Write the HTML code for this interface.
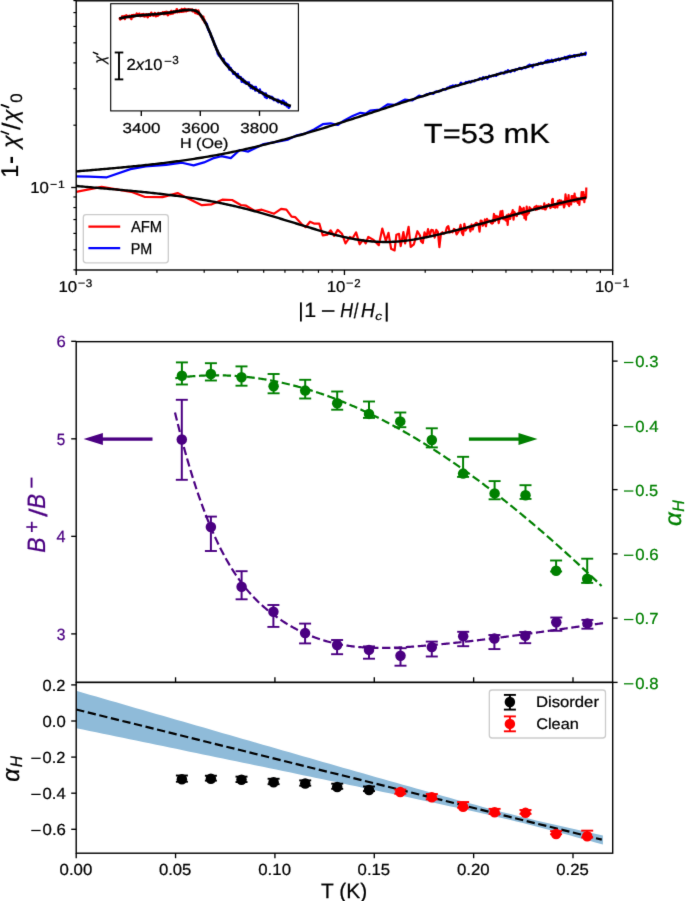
<!DOCTYPE html><html><head><meta charset="utf-8"><style>html,body{margin:0;padding:0;background:#fff;overflow:hidden}svg{display:block}text{font-family:"Liberation Sans",sans-serif;text-rendering:geometricPrecision}</style></head><body>
<svg width="685" height="901" viewBox="0 0 685 901">
<filter id="bl" color-interpolation-filters="sRGB" x="0" y="0" width="100%" height="100%" filterUnits="userSpaceOnUse"><feConvolveMatrix order="3" kernelMatrix="0.0081 0.0738 0.0081 0.0738 0.6724 0.0738 0.0081 0.0738 0.0081" edgeMode="duplicate" preserveAlpha="true"/></filter>
<g filter="url(#bl)">
<rect width="685" height="901" fill="#fff"/>
<defs><clipPath id="ctop"><rect x="76.2" y="0.8" width="536.5" height="269.2"/></clipPath><clipPath id="cins"><rect x="110.7" y="3.7" width="187.7" height="107.2"/></clipPath><clipPath id="cbot"><rect x="76.2" y="682.4" width="536.5" height="170.8"/></clipPath></defs>
<g clip-path="url(#ctop)" fill="none" stroke-linejoin="round" stroke-linecap="butt">
<polyline points="70,176.2 76,176.3 89.1,176.7 106.9,177.3 130.5,169.1 145.6,166.4 166,164.8 181.9,162.7 193.6,165.4 204,162.4 212.8,158.4 221.3,156.2 230.8,158.1 239.7,150 248.3,151.6 263.6,144 272.3,142.6 288.1,139.6 296.9,135.3 303.9,133.9 314,129.4 322.8,124.2 330.7,123.3 337.7,125 343.8,120.7 352.6,115.9 360.4,112.8 365.7,113.7 370.1,110.7 379.7,109.6 387.6,104.4 394.6,104.9 405.1,99.6 412.1,100.5 419.1,95.6 421.5,96.52 423.29,96.19 425.05,95.18 426.79,94.15 428.5,93.97 430.19,93.02 431.85,93.34 433.49,93.86 435.1,91.9 436.7,91.31 438.27,91.72 439.82,91.14 441.35,90.48 442.87,89.19 444.36,89.46 445.83,89.6 447.29,87.53 448.72,87.81 450.14,86.24 451.54,86.31 452.93,85.46 454.3,86.34 455.65,85.11 456.99,85.95 458.31,85.47 459.62,84.82 460.91,82.58 462.19,83.79 463.46,83.81 464.71,83.58 465.95,81.91 467.17,82.4 468.39,81.65 469.59,81.45 470.77,82.6 471.95,80.78 473.11,81.07 474.27,81.48 475.41,79.98 476.54,80.04 477.66,79.9 478.77,79.56 479.86,78.22 480.95,78.96 482.03,79.69 483.1,77.07 484.16,78.7 485.2,77.82 486.24,76.93 487.27,78.76 488.3,77.49 489.31,75.64 490.31,76.39 491.31,76.52 492.29,75.64 493.27,76.08 494.24,75.22 495.2,75.55 496.16,75.91 497.1,73.97 498.04,74.42 498.97,73.64 499.9,73.87 500.82,72.57 501.73,72.82 502.63,72.89 503.52,73.53 504.41,73.5 505.29,71.29 506.17,71.49 507.04,72.41 507.9,70.08 508.76,71.08 509.61,71.16 510.45,72.02 511.29,71.35 512.12,70.33 512.95,70.08 513.77,69.97 514.58,71.18 515.39,69.41 516.19,69.31 516.99,69.63 517.78,69.05 518.57,68.79 519.35,67.87 520.13,68.55 520.9,68.01 521.66,69.11 522.42,68.51 523.18,67.78 523.93,68.15 524.68,67.16 525.42,68.09 526.16,67.06 526.89,67.35 527.62,65.67 528.34,66.81 529.06,65 529.77,64.55 530.48,65.76 531.19,65.11 531.89,65.79 532.59,67.29 533.28,64.66 533.97,64.66 534.65,65.16 535.33,65.23 536.01,64.53 536.68,64.34 537.35,64.91 538.02,64.61 538.68,63.21 539.34,63.81 539.99,63.75 540.64,62.72 541.29,63.62 541.93,62.58 542.57,63.89 543.21,63.12 543.84,62.88 544.47,62.19 545.1,62.42 545.72,60.78 546.34,61.33 546.96,62.38 547.57,60.24 548.18,62.48 548.79,60.27 549.39,62.13 549.99,60.71 550.59,61.87 551.18,61.22 551.77,59.75 552.36,61.84 552.95,61.86 553.53,60.52 554.11,60.22 554.68,60.18 555.26,59.4 555.83,60.93 556.4,59.49 556.96,59.75 557.52,59.03 558.08,59.04 558.64,58.4 559.2,60.3 559.75,59.05 560.3,59.82 560.84,58.93 561.39,58.25 561.93,58.42 562.47,58.11 563.01,58.45 563.54,58.02 564.07,57.97 564.6,56.99 565.13,57.33 565.65,59.18 566.17,57.21 566.69,56.79 567.21,57.79 567.73,58.53 568.24,56.13 568.75,57.01 569.26,56.56 569.77,55.55 570.27,57.44 570.77,56.72 571.27,56.69 571.77,55.92 572.26,56.78 572.76,55.88 573.25,56.09 573.74,55.21 574.23,55.02 574.71,56.96 575.19,55.38 575.68,55.92 576.16,55.56 576.63,55.13 577.11,54.97 577.58,55.78 578.05,54.94 578.52,54.96 578.99,55 579.46,55.82 579.92,55.33 580.38,54.99 580.84,54.14 581.3,53.39 581.76,55.16 582.21,55.08 582.67,54.1 583.12,54.55 583.57,54.65 584.01,54.59 584.46,54.57 584.91,53.38 585.35,54.86 585.79,52.56 586,54.02" stroke="#0000ff" stroke-width="2.2"/>
<polyline points="70,192.6 76,191.8 101.6,186.8 131.2,191.8 145,197 162.5,197.1 177.6,193.1 188.1,198.4 201.9,205.2 211.8,204.3 222.3,199.7 232.1,200 240.8,205 246.1,205.7 254.8,210.9 261.8,209.7 274.1,213.7 281.1,208.8 286.4,209.7 291.6,216.7 295.1,217.1 302.1,224.6 305.6,227.2 310,221.7 314,223.6 319.3,223.6 322.8,235.5 327.2,234.7 330.7,230.3 334.2,235.9 337.7,229.9 342,233.8 345.5,243.4 349.9,237 352.6,238.2 356.1,232.4 359.6,244.3 363.1,239.9 365.7,243.4 368.3,237 373.6,239.9 378.8,245.2 382.3,228.5 385.8,240.8 388.5,232.9 391.1,248.7 394.6,250.4 396.4,234.7 399,233.8 400.7,246.1 403.4,232 405.1,243.4 408.6,226.8 410.7,246.9 413.9,244.3 417.4,231.2 420,235.5 421,241.27 422.8,242.97 424.57,232.27 426.31,237.19 428.03,229.18 429.72,235.56 431.39,229.92 433.04,230.27 434.66,237.63 436.26,229.86 437.84,231.99 439.4,247.14 440.93,233.63 442.45,232.2 443.95,233.59 445.43,232.7 446.89,227.4 448.33,226.16 449.75,232.43 451.16,231.62 452.55,232.3 453.92,228.95 455.28,229.97 456.62,234.39 457.95,232.31 459.26,230.39 460.56,224.9 461.84,232.68 463.11,235.05 464.37,223.88 465.61,230.53 466.84,228.35 468.05,227.33 469.26,226.64 470.45,231.43 471.63,224.48 472.79,229.41 473.95,224.91 475.09,224.26 476.23,222.8 477.35,223.43 478.46,224.44 479.56,231.62 480.65,220.63 481.73,220.92 482.8,225.72 483.86,224.13 484.92,219.48 485.96,226.23 486.99,218.8 488.01,221.24 489.03,220.6 490.03,221.1 491.03,222.99 492.02,223.53 493,222.82 493.97,213.97 494.94,221.18 495.89,215.93 496.84,218.63 497.78,216.49 498.72,223.05 499.64,218.25 500.56,211.44 501.47,217.66 502.38,210.81 503.28,219.15 504.17,218.52 505.05,219.48 505.93,220.6 506.8,215.46 507.66,224.96 508.52,214.39 509.37,215.18 510.22,218.88 511.06,213.83 511.89,213.22 512.72,210.17 513.54,219.73 514.36,211.95 515.17,213.46 515.97,215.58 516.77,215.98 517.56,213.67 518.35,213.79 519.13,213.23 519.91,206.73 520.68,213.23 521.45,208.65 522.21,214.13 522.97,214.68 523.72,207.79 524.47,218.18 525.21,211.75 525.95,219.75 526.69,206.62 527.42,214.63 528.14,210.35 528.86,213.13 529.58,207.22 530.29,208.53 530.99,208.74 531.7,208.98 532.39,209.55 533.09,209.7 533.78,209.08 534.46,207.16 535.15,206.71 535.82,209.83 536.5,205.95 537.17,209.39 537.84,208.86 538.5,206.45 539.16,208.66 539.81,206.56 540.46,206.35 541.11,208.36 541.76,206.49 542.4,208.6 543.03,208.57 543.67,208.65 544.3,203.26 544.93,209.4 545.55,209.37 546.17,208.27 546.79,205.03 547.4,206.62 548.01,205.68 548.62,204.13 549.22,205.92 549.82,205.42 550.42,208.04 551.02,206.66 551.61,206.74 552.2,199.71 552.78,198.82 553.37,206.88 553.95,204.51 554.52,204.11 555.1,207.67 555.67,204.79 556.24,203.91 556.81,203.42 557.37,207.41 557.93,200.81 558.49,205.06 559.04,201.09 559.59,200.12 560.15,204.62 560.69,202.47 561.24,200.66 561.78,204.37 562.32,202.79 562.86,202.89 563.39,201.48 563.92,207.44 564.45,206.34 564.98,202.23 565.51,194.47 566.03,199.62 566.55,203.44 567.07,198.84 567.58,204.4 568.1,200.26 568.61,195.13 569.12,206.15 569.63,202.03 570.13,200.12 570.63,202.78 571.13,204.4 571.63,196.06 572.13,201.31 572.62,196.31 573.11,199.12 573.6,195.74 574.09,201.7 574.58,193.51 575.06,198.48 575.54,201.2 576.02,199.24 576.5,197.74 576.98,199.3 577.45,202.04 577.92,202.95 578.39,198.33 578.86,198.65 579.33,204.86 579.79,199.89 580.25,198.26 580.72,198.79 581.17,198.74 581.63,192.16 582.09,199.73 582.54,194.97 582.99,196.67 583.44,192.08 583.89,196.47 584.34,202.16 584.78,195.15 585.23,199.06 585.67,197.32 586.11,197.26 586.3,187.48" stroke="#ff0000" stroke-width="2.2"/>
<polyline points="70,171.9 71.73,171.76 73.45,171.62 75.18,171.48 76.9,171.33 78.63,171.19 80.35,171.05 82.08,170.9 83.81,170.76 85.53,170.62 87.26,170.47 88.98,170.33 90.71,170.18 92.43,170.04 94.16,169.89 95.89,169.75 97.61,169.6 99.34,169.45 101.06,169.3 102.79,169.16 104.52,169.01 106.24,168.86 107.97,168.71 109.69,168.55 111.42,168.4 113.14,168.25 114.87,168.09 116.6,167.93 118.32,167.78 120.05,167.62 121.77,167.46 123.5,167.29 125.22,167.13 126.95,166.97 128.68,166.8 130.4,166.63 132.13,166.46 133.85,166.29 135.58,166.12 137.3,165.94 139.03,165.77 140.76,165.59 142.48,165.41 144.21,165.23 145.93,165.04 147.66,164.86 149.38,164.67 151.11,164.48 152.84,164.28 154.56,164.09 156.29,163.89 158.01,163.69 159.74,163.49 161.46,163.28 163.19,163.07 164.92,162.86 166.64,162.65 168.37,162.43 170.09,162.21 171.82,161.99 173.55,161.77 175.27,161.54 177,161.31 178.72,161.08 180.45,160.84 182.17,160.6 183.9,160.36 185.63,160.11 187.35,159.86 189.08,159.61 190.8,159.35 192.53,159.09 194.25,158.83 195.98,158.56 197.71,158.29 199.43,158.01 201.16,157.74 202.88,157.45 204.61,157.17 206.33,156.88 208.06,156.58 209.79,156.29 211.51,155.99 213.24,155.68 214.96,155.37 216.69,155.06 218.41,154.74 220.14,154.41 221.87,154.09 223.59,153.75 225.32,153.42 227.04,153.08 228.77,152.73 230.49,152.38 232.22,152.03 233.95,151.67 235.67,151.31 237.4,150.94 239.12,150.57 240.85,150.19 242.58,149.81 244.3,149.43 246.03,149.04 247.75,148.65 249.48,148.26 251.2,147.86 252.93,147.45 254.66,147.05 256.38,146.63 258.11,146.22 259.83,145.8 261.56,145.38 263.28,144.95 265.01,144.52 266.74,144.09 268.46,143.65 270.19,143.21 271.91,142.77 273.64,142.32 275.36,141.87 277.09,141.41 278.82,140.96 280.54,140.5 282.27,140.03 283.99,139.57 285.72,139.1 287.44,138.62 289.17,138.15 290.9,137.67 292.62,137.18 294.35,136.7 296.07,136.21 297.8,135.72 299.53,135.23 301.25,134.73 302.98,134.23 304.7,133.73 306.43,133.22 308.15,132.72 309.88,132.21 311.61,131.69 313.33,131.18 315.06,130.66 316.78,130.14 318.51,129.62 320.23,129.1 321.96,128.57 323.69,128.04 325.41,127.51 327.14,126.98 328.86,126.44 330.59,125.9 332.31,125.36 334.04,124.82 335.77,124.28 337.49,123.73 339.22,123.19 340.94,122.64 342.67,122.09 344.39,121.53 346.12,120.98 347.85,120.42 349.57,119.87 351.3,119.31 353.02,118.75 354.75,118.19 356.47,117.63 358.2,117.07 359.93,116.51 361.65,115.94 363.38,115.38 365.1,114.81 366.83,114.25 368.56,113.68 370.28,113.12 372.01,112.55 373.73,111.98 375.46,111.41 377.18,110.85 378.91,110.28 380.64,109.71 382.36,109.15 384.09,108.58 385.81,108.01 387.54,107.45 389.26,106.88 390.99,106.32 392.72,105.75 394.44,105.19 396.17,104.63 397.89,104.07 399.62,103.51 401.34,102.95 403.07,102.39 404.8,101.83 406.52,101.28 408.25,100.72 409.97,100.17 411.7,99.62 413.42,99.07 415.15,98.52 416.88,97.97 418.6,97.43 420.33,96.88 422.05,96.34 423.78,95.8 425.51,95.26 427.23,94.73 428.96,94.19 430.68,93.66 432.41,93.12 434.13,92.59 435.86,92.07 437.59,91.54 439.31,91.01 441.04,90.49 442.76,89.97 444.49,89.45 446.21,88.93 447.94,88.41 449.67,87.9 451.39,87.39 453.12,86.88 454.84,86.37 456.57,85.86 458.29,85.35 460.02,84.85 461.75,84.35 463.47,83.85 465.2,83.35 466.92,82.86 468.65,82.36 470.37,81.87 472.1,81.38 473.83,80.89 475.55,80.41 477.28,79.92 479,79.44 480.73,78.96 482.45,78.48 484.18,78.01 485.91,77.53 487.63,77.06 489.36,76.59 491.08,76.12 492.81,75.66 494.54,75.19 496.26,74.73 497.99,74.27 499.71,73.82 501.44,73.36 503.16,72.91 504.89,72.46 506.62,72.01 508.34,71.56 510.07,71.11 511.79,70.67 513.52,70.23 515.24,69.79 516.97,69.36 518.7,68.92 520.42,68.49 522.15,68.06 523.87,67.63 525.6,67.2 527.32,66.78 529.05,66.35 530.78,65.93 532.5,65.51 534.23,65.1 535.95,64.68 537.68,64.27 539.4,63.86 541.13,63.45 542.86,63.05 544.58,62.64 546.31,62.24 548.03,61.84 549.76,61.44 551.48,61.04 553.21,60.65 554.94,60.25 556.66,59.86 558.39,59.47 560.11,59.09 561.84,58.7 563.57,58.32 565.29,57.94 567.02,57.56 568.74,57.18 570.47,56.81 572.19,56.43 573.92,56.06 575.65,55.69 577.37,55.32 579.1,54.96 580.82,54.6 582.55,54.23 584.27,53.87 586,53.52" stroke="#000" stroke-width="2.4"/>
<polyline points="70,185.38 71.73,185.54 73.45,185.71 75.18,185.87 76.91,186.03 78.63,186.19 80.36,186.35 82.09,186.5 83.81,186.66 85.54,186.82 87.27,186.97 88.99,187.12 90.72,187.28 92.45,187.43 94.17,187.58 95.9,187.73 97.63,187.88 99.35,188.03 101.08,188.18 102.81,188.33 104.54,188.48 106.26,188.63 107.99,188.78 109.72,188.94 111.44,189.09 113.17,189.24 114.9,189.39 116.62,189.54 118.35,189.7 120.08,189.85 121.8,190 123.53,190.16 125.26,190.32 126.98,190.48 128.71,190.63 130.44,190.8 132.16,190.96 133.89,191.12 135.62,191.28 137.34,191.45 139.07,191.62 140.8,191.79 142.52,191.96 144.25,192.13 145.98,192.31 147.7,192.49 149.43,192.67 151.16,192.85 152.88,193.04 154.61,193.22 156.34,193.41 158.06,193.61 159.79,193.8 161.52,194 163.24,194.2 164.97,194.4 166.7,194.61 168.43,194.82 170.15,195.03 171.88,195.25 173.61,195.47 175.33,195.7 177.06,195.92 178.79,196.15 180.51,196.39 182.24,196.63 183.97,196.87 185.69,197.12 187.42,197.37 189.15,197.62 190.87,197.88 192.6,198.14 194.33,198.41 196.05,198.68 197.78,198.96 199.51,199.24 201.23,199.53 202.96,199.82 204.69,200.12 206.41,200.42 208.14,200.73 209.87,201.04 211.59,201.36 213.32,201.68 215.05,202.01 216.77,202.34 218.5,202.68 220.23,203.02 221.95,203.38 223.68,203.73 225.41,204.09 227.13,204.46 228.86,204.84 230.59,205.22 232.32,205.61 234.04,206 235.77,206.4 237.5,206.81 239.22,207.22 240.95,207.64 242.68,208.07 244.4,208.5 246.13,208.94 247.86,209.39 249.58,209.84 251.31,210.3 253.04,210.76 254.76,211.23 256.49,211.7 258.22,212.18 259.94,212.67 261.67,213.15 263.4,213.64 265.12,214.14 266.85,214.64 268.58,215.14 270.3,215.65 272.03,216.15 273.76,216.67 275.48,217.18 277.21,217.7 278.94,218.22 280.66,218.74 282.39,219.26 284.12,219.78 285.84,220.31 287.57,220.84 289.3,221.37 291.02,221.9 292.75,222.42 294.48,222.95 296.21,223.48 297.93,224.01 299.66,224.54 301.39,225.07 303.11,225.6 304.84,226.13 306.57,226.66 308.29,227.18 310.02,227.71 311.75,228.23 313.47,228.75 315.2,229.27 316.93,229.78 318.65,230.29 320.38,230.8 322.11,231.3 323.83,231.8 325.56,232.29 327.29,232.78 329.01,233.26 330.74,233.73 332.47,234.19 334.19,234.65 335.92,235.09 337.65,235.53 339.37,235.95 341.1,236.37 342.83,236.77 344.55,237.16 346.28,237.54 348.01,237.9 349.73,238.26 351.46,238.59 353.19,238.91 354.91,239.22 356.64,239.51 358.37,239.79 360.09,240.05 361.82,240.3 363.55,240.53 365.28,240.74 367,240.94 368.73,241.12 370.46,241.29 372.18,241.44 373.91,241.57 375.64,241.68 377.36,241.78 379.09,241.86 380.82,241.92 382.54,241.96 384.27,241.98 386,241.99 387.72,241.97 389.45,241.94 391.18,241.89 392.9,241.82 394.63,241.73 396.36,241.62 398.08,241.49 399.81,241.34 401.54,241.18 403.26,240.99 404.99,240.8 406.72,240.58 408.44,240.35 410.17,240.11 411.9,239.85 413.62,239.58 415.35,239.29 417.08,239 418.8,238.69 420.53,238.37 422.26,238.04 423.98,237.7 425.71,237.35 427.44,237 429.17,236.63 430.89,236.26 432.62,235.88 434.35,235.49 436.07,235.1 437.8,234.7 439.53,234.3 441.25,233.9 442.98,233.49 444.71,233.07 446.43,232.66 448.16,232.24 449.89,231.82 451.61,231.39 453.34,230.96 455.07,230.53 456.79,230.1 458.52,229.66 460.25,229.22 461.97,228.78 463.7,228.33 465.43,227.88 467.15,227.44 468.88,226.98 470.61,226.53 472.33,226.08 474.06,225.62 475.79,225.16 477.51,224.7 479.24,224.24 480.97,223.78 482.69,223.32 484.42,222.85 486.15,222.39 487.87,221.92 489.6,221.45 491.33,220.99 493.06,220.52 494.78,220.05 496.51,219.58 498.24,219.11 499.96,218.64 501.69,218.17 503.42,217.7 505.14,217.23 506.87,216.77 508.6,216.3 510.32,215.83 512.05,215.36 513.78,214.9 515.5,214.43 517.23,213.97 518.96,213.51 520.68,213.05 522.41,212.58 524.14,212.13 525.86,211.67 527.59,211.21 529.32,210.76 531.04,210.31 532.77,209.86 534.5,209.41 536.22,208.96 537.95,208.52 539.68,208.08 541.4,207.64 543.13,207.2 544.86,206.77 546.58,206.34 548.31,205.91 550.04,205.49 551.76,205.07 553.49,204.65 555.22,204.24 556.95,203.83 558.67,203.42 560.4,203.01 562.13,202.61 563.85,202.22 565.58,201.83 567.31,201.44 569.03,201.06 570.76,200.68 572.49,200.3 574.21,199.93 575.94,199.57 577.67,199.21 579.39,198.85 581.12,198.5 582.85,198.16 584.57,197.81 586.3,197.48" stroke="#000" stroke-width="2.4"/>
</g>
<rect x="76.2" y="0.8" width="536.5" height="269.2" fill="none" stroke="#000" stroke-width="1.4"/>
<line x1="76.2" y1="270" x2="76.2" y2="275" stroke="#000" stroke-width="1.35"/>
<line x1="156.95" y1="270" x2="156.95" y2="272.8" stroke="#000" stroke-width="1.2"/>
<line x1="204.19" y1="270" x2="204.19" y2="272.8" stroke="#000" stroke-width="1.2"/>
<line x1="237.7" y1="270" x2="237.7" y2="272.8" stroke="#000" stroke-width="1.2"/>
<line x1="263.7" y1="270" x2="263.7" y2="272.8" stroke="#000" stroke-width="1.2"/>
<line x1="284.94" y1="270" x2="284.94" y2="272.8" stroke="#000" stroke-width="1.2"/>
<line x1="302.9" y1="270" x2="302.9" y2="272.8" stroke="#000" stroke-width="1.2"/>
<line x1="318.45" y1="270" x2="318.45" y2="272.8" stroke="#000" stroke-width="1.2"/>
<line x1="332.18" y1="270" x2="332.18" y2="272.8" stroke="#000" stroke-width="1.2"/>
<line x1="344.45" y1="270" x2="344.45" y2="275" stroke="#000" stroke-width="1.35"/>
<line x1="425.2" y1="270" x2="425.2" y2="272.8" stroke="#000" stroke-width="1.2"/>
<line x1="472.44" y1="270" x2="472.44" y2="272.8" stroke="#000" stroke-width="1.2"/>
<line x1="505.95" y1="270" x2="505.95" y2="272.8" stroke="#000" stroke-width="1.2"/>
<line x1="531.95" y1="270" x2="531.95" y2="272.8" stroke="#000" stroke-width="1.2"/>
<line x1="553.19" y1="270" x2="553.19" y2="272.8" stroke="#000" stroke-width="1.2"/>
<line x1="571.15" y1="270" x2="571.15" y2="272.8" stroke="#000" stroke-width="1.2"/>
<line x1="586.7" y1="270" x2="586.7" y2="272.8" stroke="#000" stroke-width="1.2"/>
<line x1="600.43" y1="270" x2="600.43" y2="272.8" stroke="#000" stroke-width="1.2"/>
<line x1="612.7" y1="270" x2="612.7" y2="275" stroke="#000" stroke-width="1.35"/>
<line x1="73.4" y1="269.85" x2="76.2" y2="269.85" stroke="#000" stroke-width="1.2"/>
<line x1="73.4" y1="249.79" x2="76.2" y2="249.79" stroke="#000" stroke-width="1.2"/>
<line x1="73.4" y1="233.4" x2="76.2" y2="233.4" stroke="#000" stroke-width="1.2"/>
<line x1="73.4" y1="219.55" x2="76.2" y2="219.55" stroke="#000" stroke-width="1.2"/>
<line x1="73.4" y1="207.55" x2="76.2" y2="207.55" stroke="#000" stroke-width="1.2"/>
<line x1="73.4" y1="196.96" x2="76.2" y2="196.96" stroke="#000" stroke-width="1.2"/>
<line x1="73.4" y1="125.19" x2="76.2" y2="125.19" stroke="#000" stroke-width="1.2"/>
<line x1="73.4" y1="88.74" x2="76.2" y2="88.74" stroke="#000" stroke-width="1.2"/>
<line x1="73.4" y1="62.89" x2="76.2" y2="62.89" stroke="#000" stroke-width="1.2"/>
<line x1="73.4" y1="42.83" x2="76.2" y2="42.83" stroke="#000" stroke-width="1.2"/>
<line x1="73.4" y1="26.44" x2="76.2" y2="26.44" stroke="#000" stroke-width="1.2"/>
<line x1="73.4" y1="12.59" x2="76.2" y2="12.59" stroke="#000" stroke-width="1.2"/>
<line x1="73.4" y1="0.59" x2="76.2" y2="0.59" stroke="#000" stroke-width="1.2"/>
<line x1="71.2" y1="187.49" x2="76.2" y2="187.49" stroke="#000" stroke-width="1.35"/>
<rect x="78.3" y="282.6" width="6.5" height="1" fill="#000"/>
<rect x="346.5" y="282.6" width="6.5" height="1" fill="#000"/>
<rect x="614.8" y="282.6" width="6.5" height="1" fill="#000"/>
<rect x="50.5" y="183.9" width="6.2" height="1" fill="#000"/>
<rect x="300" y="302.4" width="1.8" height="19.1" fill="#000"/>
<rect x="321.9" y="310.2" width="12.6" height="1.6" fill="#000"/>
<rect x="385.7" y="302.7" width="2" height="18.9" fill="#000"/>
<rect x="10.5" y="156.9" width="2.5" height="6.1" fill="#000"/>
<line x1="1.4" y1="131.5" x2="8.4" y2="134" stroke="#000" stroke-width="1.8" stroke-linecap="round"/>
<line x1="1.5" y1="104.9" x2="8.5" y2="107.4" stroke="#000" stroke-width="1.8" stroke-linecap="round"/>
<rect x="83.3" y="214.6" width="85" height="48.2" rx="2.8" ry="2.8" fill="#fff" fill-opacity="0.8" stroke="#cbcbcb" stroke-width="1.3"/>
<line x1="88.4" y1="226.6" x2="120.2" y2="226.6" stroke="#ff0000" stroke-width="2.2"/>
<line x1="88.4" y1="248.2" x2="120.2" y2="248.2" stroke="#0000ff" stroke-width="2.2"/>
<rect x="110.7" y="3.7" width="187.7" height="107.2" fill="#fff" stroke="#000" stroke-width="1.1"/>
<g clip-path="url(#cins)" fill="none" stroke-linejoin="round">
<polyline points="119.3,19.1 119.8,18.39 120.3,19.48 120.8,18.57 121.3,18.43 121.8,18.35 122.3,16.38 122.8,17.58 123.3,17.39 123.8,17.76 124.3,16.11 124.8,19.01 125.3,17.39 125.8,15.99 126.3,15.41 126.8,16.76 127.3,16.87 127.8,16.17 128.3,16.9 128.8,16.1 129.3,17.22 129.8,15.87 130.3,16.49 130.8,17.44 131.3,18.96 131.8,15.32 132.3,15.8 132.8,15.36 133.3,16.93 133.8,14.94 134.3,15.54 134.8,15.94 135.3,14.94 135.8,14.9 136.3,15.33 136.8,13.65 137.3,14.26 137.8,15.24 138.3,15.75 138.8,15.37 139.3,13.73 139.8,15 140.3,16.21 140.8,15.92 141.3,15.25 141.8,14.39 142.3,15.87 142.8,14.61 143.3,13.98 143.8,14.31 144.3,16.52 144.8,15.25 145.3,16.14 145.8,14.46 146.3,15.84 146.8,14.26 147.3,14.67 147.8,17.27 148.3,15.51 148.8,14.2 149.3,14.58 149.8,14.95 150.3,15.8 150.8,14.06 151.3,12.76 151.8,14.19 152.3,14.44 152.8,14.49 153.3,15.66 153.8,14.62 154.3,15.07 154.8,13.12 155.3,15.04 155.8,16.23 156.3,14.86 156.8,14.3 157.3,14.15 157.8,15.74 158.3,12.98 158.8,13.75 159.3,14.27 159.8,14.5 160.3,13.27 160.8,13.97 161.3,13.33 161.8,13.68 162.3,13.37 162.8,12.31 163.3,13.37 163.8,14.21 164.3,12.31 164.8,12.97 165.3,13.82 165.8,12.02 166.3,13.21 166.8,11.9 167.3,14.03 167.8,15.14 168.3,14.78 168.8,12.47 169.3,13.35 169.8,12.66 170.3,12.57 170.8,13.93 171.3,10.99 171.8,13.28 172.3,12.09 172.8,13.46 173.3,12.16 173.8,11.21 174.3,12.07 174.8,12.44 175.3,11.65 175.8,12.01 176.3,10.91 176.8,9.21 177.3,12.15 177.8,11.86 178.3,11.23 178.8,11.06 179.3,11.94 179.8,10.37 180.3,10.04 180.8,10.48 181.3,11.78 181.8,9.13 182.3,11.64 182.8,9.75 183.3,9.22 183.8,11.53 184.3,10.12 184.8,8.86 185.3,9.76 185.8,11.01 186.3,11.24 186.8,9.59 187.3,10.4 187.8,10.69 188.3,9.32 188.8,10.32 189.3,9.93 189.8,9.44 190.3,9.5 190.8,10.09 191.3,10.08 191.8,9.53 192.3,9.72 192.8,11.31 193.3,10.48 193.8,11.23 194.3,11.65 194.8,11.16 195.3,12.99 195.8,10.08 196.3,11.94 196.8,11.08 197.3,13.57 197.8,13.78 198.3,10.55 198.8,12.02 199.3,14.18 199.8,14.89 200.3,15.45 200.8,15.3 201.3,16.51 201.8,17.43 202.3,17.44 202.8,19.32 203.3,16.84 203.8,20.57 204.3,19.77 204.8,22.66 205.3,22.39 205.8,22.69" stroke="#ff0000" stroke-width="2.5"/>
<polyline points="205.3,23 205.8,22.66 206.3,23.64 206.8,24 207.3,26.58 207.8,28.17 208.3,29.79 208.8,29.75 209.3,32.09 209.8,32.24 210.3,33.34 210.8,35.23 211.3,36.97 211.8,36.85 212.3,38.24 212.8,39.62 213.3,41.16 213.8,41.46 214.3,44.66 214.8,44.48 215.3,46.56 215.8,46.47 216.3,48.81 216.8,49.96 217.3,50.22 217.8,53.7 218.3,53.05 218.8,55.43 219.3,55.54 219.8,54.82 220.3,55.97 220.8,57.62 221.3,58.06 221.8,58.83 222.3,59.25 222.8,58.45 223.3,60.74 223.8,59.43 224.3,62.68 224.8,62.23 225.3,62.86 225.8,63.96 226.3,65.04 226.8,63.91 227.3,64.15 227.8,65.38 228.3,64.94 228.8,66.54 229.3,69.61 229.8,67.48 230.3,69.69 230.8,68.16 231.3,70.32 231.8,70.19 232.3,70.94 232.8,72.04 233.3,73.71 233.8,72.62 234.3,73.01 234.8,72.38 235.3,74.39 235.8,74.01 236.3,75.54 236.8,75.11 237.3,77.34 237.8,74.05 238.3,76.17 238.8,77.78 239.3,76.97 239.8,76.95 240.3,77.89 240.8,77.19 241.3,79.1 241.8,81.83 242.3,80.93 242.8,79.08 243.3,79.71 243.8,80.57 244.3,82.36 244.8,80.92 245.3,81.43 245.8,83.38 246.3,83.73 246.8,82.86 247.3,82.49 247.8,82.42 248.3,83.63 248.8,82.45 249.3,85.78 249.8,84.75 250.3,86.21 250.8,87.94 251.3,87.58 251.8,85.6 252.3,87.95 252.8,88.57 253.3,86.99 253.8,87.11 254.3,88.27 254.8,87.1 255.3,90.49 255.8,86.92 256.3,88.53 256.8,89.68 257.3,90.02 257.8,90.72 258.3,91.12 258.8,90.93 259.3,92.58 259.8,89.59 260.3,92.02 260.8,91.59 261.3,92.72 261.8,93.09 262.3,92.24 262.8,92.78 263.3,94.49 263.8,94.32 264.3,93.56 264.8,96.55 265.3,97.08 265.8,93.57 266.3,95.59 266.8,98.06 267.3,96.59 267.8,96.28 268.3,96.11 268.8,96.02 269.3,96.6 269.8,96.51 270.3,98.05 270.8,97.15 271.3,97.34 271.8,96.82 272.3,98.21 272.8,97.6 273.3,98.55 273.8,100.01 274.3,99.56 274.8,99.93 275.3,100.01 275.8,99.94 276.3,99.97 276.8,100.02 277.3,101.3 277.8,99.68 278.3,102.33 278.8,101.24 279.3,100.67 279.8,101.15 280.3,101.17 280.8,102.22 281.3,101.55 281.8,103.63 282.3,101.91 282.8,100.63 283.3,102.38 283.8,101.31 284.3,103.48 284.8,104.78 285.3,104.58 285.8,102.8 286.3,103.57 286.8,106.32 287.3,105.06 287.8,104.94 288.3,106.19 288.8,107.79 289.3,106.83 289.8,105.87 290.3,106.28" stroke="#0000ff" stroke-width="2.5"/>
<polyline points="119.3,18.46 120.16,18.28 121.02,18.09 121.89,17.92 122.75,17.75 123.61,17.59 124.47,17.43 125.33,17.28 126.19,17.14 127.06,17 127.92,16.87 128.78,16.74 129.64,16.62 130.5,16.5 131.37,16.38 132.23,16.27 133.09,16.17 133.95,16.07 134.81,15.97 135.67,15.87 136.54,15.78 137.4,15.69 138.26,15.61 139.12,15.52 139.98,15.44 140.85,15.36 141.71,15.29 142.57,15.21 143.43,15.14 144.29,15.07 145.15,15 146.02,14.93 146.88,14.86 147.74,14.79 148.6,14.72 149.46,14.65 150.33,14.58 151.19,14.51 152.05,14.44 152.91,14.37 153.77,14.3 154.63,14.23 155.5,14.16 156.36,14.08 157.22,14 158.08,13.93 158.94,13.84 159.81,13.76 160.67,13.67 161.53,13.58 162.39,13.49 163.25,13.4 164.11,13.3 164.98,13.19 165.84,13.09 166.7,12.98 167.56,12.86 168.42,12.74 169.28,12.62 170.15,12.49 171.01,12.35 171.87,12.21 172.73,12.07 173.59,11.92 174.46,11.76 175.32,11.61 176.18,11.45 177.04,11.3 177.9,11.15 178.76,11 179.63,10.85 180.49,10.72 181.35,10.59 182.21,10.46 183.07,10.35 183.94,10.25 184.8,10.16 185.66,10.09 186.52,10.03 187.38,9.99 188.24,9.97 189.11,9.96 189.97,9.98 190.83,10.02 191.69,10.08 192.55,10.17 193.42,10.28 194.28,10.44 195.14,10.67 196,10.99 196.86,11.44 197.72,12.02 198.59,12.78 199.45,13.69 200.31,14.73 201.17,15.88 202.03,17.12 202.9,18.45 203.76,19.86 204.62,21.37 205.48,22.96 206.34,24.64 207.2,26.41 208.07,28.26 208.93,30.19 209.79,32.2 210.65,34.29 211.51,36.46 212.38,38.68 213.24,40.92 214.1,43.13 214.96,45.28 215.82,47.35 216.68,49.31 217.55,51.16 218.41,52.89 219.27,54.53 220.13,56.06 220.99,57.5 221.86,58.86 222.72,60.14 223.58,61.35 224.44,62.5 225.3,63.58 226.16,64.61 227.03,65.6 227.89,66.54 228.75,67.46 229.61,68.34 230.47,69.21 231.34,70.06 232.2,70.9 233.06,71.72 233.92,72.53 234.78,73.33 235.64,74.12 236.51,74.89 237.37,75.66 238.23,76.41 239.09,77.14 239.95,77.87 240.82,78.58 241.68,79.29 242.54,79.98 243.4,80.66 244.26,81.33 245.12,81.99 245.99,82.64 246.85,83.27 247.71,83.9 248.57,84.52 249.43,85.13 250.29,85.73 251.16,86.31 252.02,86.89 252.88,87.46 253.74,88.02 254.6,88.58 255.47,89.12 256.33,89.66 257.19,90.18 258.05,90.7 258.91,91.21 259.77,91.72 260.64,92.21 261.5,92.7 262.36,93.18 263.22,93.66 264.08,94.12 264.95,94.58 265.81,95.04 266.67,95.48 267.53,95.93 268.39,96.36 269.25,96.79 270.12,97.21 270.98,97.63 271.84,98.04 272.7,98.45 273.56,98.85 274.43,99.25 275.29,99.64 276.15,100.03 277.01,100.42 277.87,100.8 278.73,101.17 279.6,101.55 280.46,101.92 281.32,102.28 282.18,102.64 283.04,103 283.91,103.36 284.77,103.71 285.63,104.06 286.49,104.41 287.35,104.76 288.21,105.1 289.08,105.45 289.94,105.79 290.8,106.13" stroke="#000" stroke-width="2.7"/>
</g>
<line x1="141.3" y1="110.9" x2="141.3" y2="115.9" stroke="#000" stroke-width="1.35"/>
<line x1="200.3" y1="110.9" x2="200.3" y2="115.9" stroke="#000" stroke-width="1.35"/>
<line x1="259.5" y1="110.9" x2="259.5" y2="115.9" stroke="#000" stroke-width="1.35"/>
<line x1="93.4" y1="52.4" x2="97.8" y2="54.2" stroke="#000" stroke-width="1.5" stroke-linecap="round"/>
<line x1="119" y1="52.5" x2="119" y2="79.4" stroke="#000" stroke-width="1.9"/>
<line x1="114.7" y1="52.5" x2="123.3" y2="52.5" stroke="#000" stroke-width="1.9"/>
<line x1="114.7" y1="79.4" x2="123.3" y2="79.4" stroke="#000" stroke-width="1.9"/>
<rect x="164.6" y="60.8" width="6.8" height="1" fill="#000"/>
<rect x="76.2" y="341.65" width="536.4" height="340.75" fill="none" stroke="#000" stroke-width="1.4"/>
<line x1="71.2" y1="341.3" x2="76.2" y2="341.3" stroke="#000" stroke-width="1.35"/>
<line x1="71.2" y1="438.83" x2="76.2" y2="438.83" stroke="#000" stroke-width="1.35"/>
<line x1="71.2" y1="536.36" x2="76.2" y2="536.36" stroke="#000" stroke-width="1.35"/>
<line x1="71.2" y1="633.89" x2="76.2" y2="633.89" stroke="#000" stroke-width="1.35"/>
<line x1="612.6" y1="361.1" x2="617.6" y2="361.1" stroke="#000" stroke-width="1.35"/>
<rect x="623.99" y="361.88" width="9.39" height="1.25" fill="#008000"/>
<line x1="612.6" y1="425.36" x2="617.6" y2="425.36" stroke="#000" stroke-width="1.35"/>
<rect x="623.99" y="426.14" width="9.39" height="1.25" fill="#008000"/>
<line x1="612.6" y1="489.62" x2="617.6" y2="489.62" stroke="#000" stroke-width="1.35"/>
<rect x="623.99" y="490.4" width="9.39" height="1.25" fill="#008000"/>
<line x1="612.6" y1="553.88" x2="617.6" y2="553.88" stroke="#000" stroke-width="1.35"/>
<rect x="623.99" y="554.65" width="9.39" height="1.25" fill="#008000"/>
<line x1="612.6" y1="618.14" x2="617.6" y2="618.14" stroke="#000" stroke-width="1.35"/>
<rect x="623.99" y="618.91" width="9.39" height="1.25" fill="#008000"/>
<line x1="612.6" y1="682.4" x2="617.6" y2="682.4" stroke="#000" stroke-width="1.35"/>
<rect x="623.99" y="683.18" width="9.39" height="1.25" fill="#008000"/>
<line x1="175.56" y1="677.3" x2="175.56" y2="682.4" stroke="#000" stroke-width="1.35"/>
<line x1="274.92" y1="677.3" x2="274.92" y2="682.4" stroke="#000" stroke-width="1.35"/>
<line x1="374.28" y1="677.3" x2="374.28" y2="682.4" stroke="#000" stroke-width="1.35"/>
<line x1="473.64" y1="677.3" x2="473.64" y2="682.4" stroke="#000" stroke-width="1.35"/>
<line x1="573" y1="677.3" x2="573" y2="682.4" stroke="#000" stroke-width="1.35"/>
<rect x="30.6" y="477.6" width="1.9" height="10.1" fill="#4b0082"/>
<polygon points="83.6,439.1 102.9,433.1 102.9,445.1" fill="#4b0082"/>
<rect x="102" y="437.45" width="50.5" height="3.3" fill="#4b0082"/>
<polygon points="537.5,439.1 518.5,433.1 518.5,445.1" fill="#008000"/>
<rect x="468.9" y="437.45" width="50.5" height="3.3" fill="#008000"/>
<g fill="none" stroke-width="2.2" stroke-dasharray="8.3 3.6">
<polyline points="175.3,378.22 176.37,378.07 177.44,377.92 178.51,377.77 179.57,377.63 180.64,377.5 181.71,377.36 182.78,377.24 183.85,377.11 184.92,376.99 185.98,376.87 187.05,376.76 188.12,376.65 189.19,376.55 190.26,376.45 191.33,376.36 192.39,376.27 193.46,376.18 194.53,376.1 195.6,376.02 196.67,375.94 197.74,375.87 198.81,375.81 199.87,375.74 200.94,375.68 202.01,375.63 203.08,375.58 204.15,375.53 205.22,375.49 206.28,375.45 207.35,375.42 208.42,375.39 209.49,375.37 210.56,375.34 211.63,375.33 212.69,375.31 213.76,375.3 214.83,375.3 215.9,375.3 216.97,375.3 218.04,375.3 219.11,375.31 220.17,375.33 221.24,375.35 222.31,375.37 223.38,375.4 224.45,375.43 225.52,375.46 226.58,375.5 227.65,375.54 228.72,375.59 229.79,375.64 230.86,375.69 231.93,375.75 232.99,375.81 234.06,375.87 235.13,375.94 236.2,376.02 237.27,376.09 238.34,376.17 239.41,376.26 240.47,376.35 241.54,376.44 242.61,376.54 243.68,376.64 244.75,376.74 245.82,376.85 246.88,376.96 247.95,377.08 249.02,377.2 250.09,377.32 251.16,377.45 252.23,377.58 253.29,377.71 254.36,377.85 255.43,377.99 256.5,378.14 257.57,378.29 258.64,378.44 259.71,378.6 260.77,378.76 261.84,378.92 262.91,379.09 263.98,379.26 265.05,379.44 266.12,379.62 267.18,379.8 268.25,379.99 269.32,380.18 270.39,380.37 271.46,380.57 272.53,380.77 273.59,380.98 274.66,381.19 275.73,381.4 276.8,381.61 277.87,381.83 278.94,382.06 280.01,382.29 281.07,382.52 282.14,382.75 283.21,382.99 284.28,383.23 285.35,383.47 286.42,383.72 287.48,383.98 288.55,384.23 289.62,384.49 290.69,384.75 291.76,385.02 292.83,385.29 293.89,385.56 294.96,385.84 296.03,386.12 297.1,386.41 298.17,386.69 299.24,386.98 300.31,387.28 301.37,387.58 302.44,387.88 303.51,388.18 304.58,388.49 305.65,388.81 306.72,389.12 307.78,389.44 308.85,389.76 309.92,390.09 310.99,390.42 312.06,390.75 313.13,391.09 314.19,391.43 315.26,391.77 316.33,392.12 317.4,392.47 318.47,392.82 319.54,393.18 320.61,393.54 321.67,393.9 322.74,394.27 323.81,394.64 324.88,395.01 325.95,395.39 327.02,395.77 328.08,396.15 329.15,396.54 330.22,396.93 331.29,397.33 332.36,397.72 333.43,398.12 334.49,398.53 335.56,398.93 336.63,399.34 337.7,399.76 338.77,400.17 339.84,400.59 340.91,401.02 341.97,401.44 343.04,401.87 344.11,402.31 345.18,402.74 346.25,403.18 347.32,403.63 348.38,404.07 349.45,404.52 350.52,404.97 351.59,405.43 352.66,405.89 353.73,406.35 354.79,406.82 355.86,407.29 356.93,407.76 358,408.23 359.07,408.71 360.14,409.19 361.21,409.68 362.27,410.16 363.34,410.65 364.41,411.15 365.48,411.64 366.55,412.14 367.62,412.65 368.68,413.15 369.75,413.66 370.82,414.18 371.89,414.69 372.96,415.21 374.03,415.73 375.09,416.26 376.16,416.78 377.23,417.32 378.3,417.85 379.37,418.39 380.44,418.93 381.51,419.47 382.57,420.02 383.64,420.56 384.71,421.12 385.78,421.67 386.85,422.23 387.92,422.79 388.98,423.35 390.05,423.92 391.12,424.49 392.19,425.06 393.26,425.64 394.33,426.22 395.39,426.8 396.46,427.39 397.53,427.97 398.6,428.57 399.67,429.16 400.74,429.76 401.81,430.35 402.87,430.96 403.94,431.56 405.01,432.17 406.08,432.78 407.15,433.4 408.22,434.01 409.28,434.63 410.35,435.25 411.42,435.88 412.49,436.51 413.56,437.14 414.63,437.77 415.69,438.41 416.76,439.05 417.83,439.69 418.9,440.34 419.97,440.98 421.04,441.63 422.11,442.29 423.17,442.94 424.24,443.6 425.31,444.27 426.38,444.93 427.45,445.6 428.52,446.27 429.58,446.94 430.65,447.62 431.72,448.29 432.79,448.97 433.86,449.66 434.93,450.34 435.99,451.03 437.06,451.73 438.13,452.42 439.2,453.12 440.27,453.82 441.34,454.52 442.41,455.22 443.47,455.93 444.54,456.64 445.61,457.35 446.68,458.07 447.75,458.79 448.82,459.51 449.88,460.23 450.95,460.96 452.02,461.69 453.09,462.42 454.16,463.15 455.23,463.89 456.29,464.63 457.36,465.37 458.43,466.11 459.5,466.86 460.57,467.61 461.64,468.36 462.71,469.11 463.77,469.87 464.84,470.63 465.91,471.39 466.98,472.15 468.05,472.92 469.12,473.69 470.18,474.46 471.25,475.23 472.32,476.01 473.39,476.79 474.46,477.57 475.53,478.35 476.59,479.14 477.66,479.93 478.73,480.72 479.8,481.51 480.87,482.31 481.94,483.11 483.01,483.91 484.07,484.71 485.14,485.52 486.21,486.32 487.28,487.13 488.35,487.95 489.42,488.76 490.48,489.58 491.55,490.4 492.62,491.22 493.69,492.04 494.76,492.87 495.83,493.7 496.89,494.53 497.96,495.36 499.03,496.2 500.1,497.04 501.17,497.88 502.24,498.72 503.31,499.56 504.37,500.41 505.44,501.26 506.51,502.11 507.58,502.96 508.65,503.82 509.72,504.68 510.78,505.54 511.85,506.4 512.92,507.27 513.99,508.13 515.06,509 516.13,509.87 517.19,510.75 518.26,511.62 519.33,512.5 520.4,513.38 521.47,514.26 522.54,515.15 523.61,516.03 524.67,516.92 525.74,517.81 526.81,518.7 527.88,519.6 528.95,520.49 530.02,521.39 531.08,522.29 532.15,523.2 533.22,524.1 534.29,525.01 535.36,525.92 536.43,526.83 537.49,527.74 538.56,528.66 539.63,529.58 540.7,530.49 541.77,531.42 542.84,532.34 543.91,533.26 544.97,534.19 546.04,535.12 547.11,536.05 548.18,536.99 549.25,537.92 550.32,538.86 551.38,539.8 552.45,540.74 553.52,541.68 554.59,542.63 555.66,543.57 556.73,544.52 557.79,545.47 558.86,546.42 559.93,547.38 561,548.34 562.07,549.29 563.14,550.25 564.21,551.22 565.27,552.18 566.34,553.14 567.41,554.11 568.48,555.08 569.55,556.05 570.62,557.03 571.68,558 572.75,558.98 573.82,559.96 574.89,560.94 575.96,561.92 577.03,562.9 578.09,563.89 579.16,564.87 580.23,565.86 581.3,566.85 582.37,567.85 583.44,568.84 584.51,569.84 585.57,570.83 586.64,571.83 587.71,572.84 588.78,573.84 589.85,574.84 590.92,575.85 591.98,576.86 593.05,577.87 594.12,578.88 595.19,579.89 596.26,580.91 597.33,581.92 598.39,582.94 599.46,583.96 600.53,584.98 601.6,586" stroke="#008000"/>
<polyline points="175,412.49 176.07,416.92 177.15,421.29 178.22,425.58 179.29,429.82 180.36,433.98 181.44,438.08 182.51,442.12 183.58,446.09 184.65,450 185.73,453.84 186.8,457.62 187.87,461.35 188.94,465.01 190.02,468.61 191.09,472.15 192.16,475.64 193.24,479.06 194.31,482.43 195.38,485.74 196.45,488.99 197.53,492.19 198.6,495.33 199.67,498.42 200.74,501.46 201.82,504.44 202.89,507.37 203.96,510.24 205.04,513.07 206.11,515.84 207.18,518.56 208.25,521.24 209.33,523.86 210.4,526.44 211.47,528.97 212.54,531.45 213.62,533.88 214.69,536.27 215.76,538.61 216.83,540.91 217.91,543.17 218.98,545.38 220.05,547.55 221.13,549.67 222.2,551.76 223.27,553.8 224.34,555.8 225.42,557.77 226.49,559.69 227.56,561.58 228.63,563.42 229.71,565.23 230.78,567.01 231.85,568.74 232.92,570.44 234,572.11 235.07,573.74 236.14,575.34 237.22,576.91 238.29,578.44 239.36,579.94 240.43,581.41 241.51,582.85 242.58,584.26 243.65,585.64 244.72,586.99 245.8,588.32 246.87,589.61 247.94,590.88 249.02,592.12 250.09,593.34 251.16,594.53 252.23,595.7 253.31,596.84 254.38,597.96 255.45,599.06 256.52,600.14 257.6,601.19 258.67,602.23 259.74,603.24 260.81,604.23 261.89,605.21 262.96,606.17 264.03,607.11 265.11,608.03 266.18,608.93 267.25,609.82 268.32,610.7 269.4,611.56 270.47,612.4 271.54,613.24 272.61,614.06 273.69,614.87 274.76,615.66 275.83,616.44 276.9,617.22 277.98,617.98 279.05,618.72 280.12,619.46 281.2,620.18 282.27,620.9 283.34,621.6 284.41,622.29 285.49,622.96 286.56,623.63 287.63,624.29 288.7,624.93 289.78,625.57 290.85,626.19 291.92,626.8 292.99,627.4 294.07,627.99 295.14,628.57 296.21,629.14 297.29,629.7 298.36,630.25 299.43,630.78 300.5,631.31 301.58,631.83 302.65,632.34 303.72,632.84 304.79,633.32 305.87,633.8 306.94,634.27 308.01,634.73 309.09,635.18 310.16,635.62 311.23,636.05 312.3,636.47 313.38,636.88 314.45,637.28 315.52,637.68 316.59,638.06 317.67,638.44 318.74,638.81 319.81,639.17 320.88,639.52 321.96,639.86 323.03,640.19 324.1,640.51 325.18,640.83 326.25,641.14 327.32,641.44 328.39,641.73 329.47,642.02 330.54,642.29 331.61,642.56 332.68,642.82 333.76,643.07 334.83,643.32 335.9,643.56 336.97,643.79 338.05,644.01 339.12,644.23 340.19,644.44 341.27,644.64 342.34,644.84 343.41,645.02 344.48,645.21 345.56,645.38 346.63,645.55 347.7,645.71 348.77,645.87 349.85,646.02 350.92,646.16 351.99,646.3 353.07,646.43 354.14,646.55 355.21,646.67 356.28,646.78 357.36,646.89 358.43,646.99 359.5,647.09 360.57,647.18 361.65,647.26 362.72,647.34 363.79,647.42 364.86,647.49 365.94,647.55 367.01,647.61 368.08,647.66 369.16,647.71 370.23,647.76 371.3,647.8 372.37,647.83 373.45,647.86 374.52,647.89 375.59,647.91 376.66,647.93 377.74,647.94 378.81,647.95 379.88,647.96 380.95,647.96 382.03,647.95 383.1,647.95 384.17,647.94 385.25,647.92 386.32,647.91 387.39,647.89 388.46,647.86 389.54,647.84 390.61,647.81 391.68,647.77 392.75,647.74 393.83,647.7 394.9,647.66 395.97,647.61 397.05,647.56 398.12,647.51 399.19,647.46 400.26,647.41 401.34,647.35 402.41,647.29 403.48,647.23 404.55,647.16 405.63,647.1 406.7,647.03 407.77,646.96 408.84,646.89 409.92,646.82 410.99,646.74 412.06,646.67 413.14,646.59 414.21,646.51 415.28,646.43 416.35,646.35 417.43,646.27 418.5,646.18 419.57,646.1 420.64,646.01 421.72,645.93 422.79,645.84 423.86,645.75 424.93,645.66 426.01,645.57 427.08,645.48 428.15,645.39 429.23,645.3 430.3,645.2 431.37,645.11 432.44,645.01 433.52,644.92 434.59,644.82 435.66,644.72 436.73,644.62 437.81,644.52 438.88,644.42 439.95,644.32 441.03,644.22 442.1,644.12 443.17,644.01 444.24,643.91 445.32,643.8 446.39,643.7 447.46,643.59 448.53,643.48 449.61,643.37 450.68,643.26 451.75,643.15 452.82,643.04 453.9,642.93 454.97,642.82 456.04,642.7 457.12,642.59 458.19,642.47 459.26,642.36 460.33,642.24 461.41,642.12 462.48,642.01 463.55,641.89 464.62,641.77 465.7,641.65 466.77,641.53 467.84,641.41 468.91,641.29 469.99,641.16 471.06,641.04 472.13,640.92 473.21,640.79 474.28,640.67 475.35,640.54 476.42,640.41 477.5,640.29 478.57,640.16 479.64,640.03 480.71,639.9 481.79,639.77 482.86,639.64 483.93,639.51 485.01,639.38 486.08,639.25 487.15,639.12 488.22,638.99 489.3,638.85 490.37,638.72 491.44,638.59 492.51,638.45 493.59,638.32 494.66,638.18 495.73,638.04 496.8,637.91 497.88,637.77 498.95,637.63 500.02,637.5 501.1,637.36 502.17,637.22 503.24,637.08 504.31,636.94 505.39,636.8 506.46,636.66 507.53,636.52 508.6,636.38 509.68,636.23 510.75,636.09 511.82,635.95 512.89,635.81 513.97,635.66 515.04,635.52 516.11,635.38 517.19,635.23 518.26,635.09 519.33,634.94 520.4,634.8 521.48,634.65 522.55,634.5 523.62,634.36 524.69,634.21 525.77,634.06 526.84,633.92 527.91,633.77 528.98,633.62 530.06,633.47 531.13,633.32 532.2,633.18 533.28,633.03 534.35,632.88 535.42,632.73 536.49,632.58 537.57,632.43 538.64,632.28 539.71,632.13 540.78,631.98 541.86,631.83 542.93,631.68 544,631.53 545.08,631.37 546.15,631.22 547.22,631.07 548.29,630.92 549.37,630.77 550.44,630.62 551.51,630.46 552.58,630.31 553.66,630.16 554.73,630.01 555.8,629.86 556.87,629.7 557.95,629.55 559.02,629.4 560.09,629.24 561.17,629.09 562.24,628.94 563.31,628.79 564.38,628.63 565.46,628.48 566.53,628.33 567.6,628.17 568.67,628.02 569.75,627.87 570.82,627.71 571.89,627.56 572.96,627.41 574.04,627.25 575.11,627.1 576.18,626.95 577.26,626.8 578.33,626.64 579.4,626.49 580.47,626.34 581.55,626.18 582.62,626.03 583.69,625.88 584.76,625.73 585.84,625.57 586.91,625.42 587.98,625.27 589.06,625.12 590.13,624.96 591.2,624.81 592.27,624.66 593.35,624.51 594.42,624.36 595.49,624.2 596.56,624.05 597.64,623.9 598.71,623.75 599.78,623.6 600.85,623.45 601.93,623.3 603,623.15" stroke="#4b0082"/>
</g>
<line x1="181.9" y1="362.4" x2="181.9" y2="384.5" stroke="#008000" stroke-width="2"/>
<line x1="175.9" y1="362.4" x2="187.9" y2="362.4" stroke="#008000" stroke-width="1.9"/>
<line x1="175.9" y1="384.5" x2="187.9" y2="384.5" stroke="#008000" stroke-width="1.9"/>
<circle cx="181.9" cy="375.8" r="5.25" fill="#008000"/>
<line x1="210.9" y1="363.2" x2="210.9" y2="380.5" stroke="#008000" stroke-width="2"/>
<line x1="204.9" y1="363.2" x2="216.9" y2="363.2" stroke="#008000" stroke-width="1.9"/>
<line x1="204.9" y1="380.5" x2="216.9" y2="380.5" stroke="#008000" stroke-width="1.9"/>
<circle cx="210.9" cy="374" r="5.25" fill="#008000"/>
<line x1="241.5" y1="366.4" x2="241.5" y2="385.7" stroke="#008000" stroke-width="2"/>
<line x1="235.5" y1="366.4" x2="247.5" y2="366.4" stroke="#008000" stroke-width="1.9"/>
<line x1="235.5" y1="385.7" x2="247.5" y2="385.7" stroke="#008000" stroke-width="1.9"/>
<circle cx="241.5" cy="377.2" r="5.25" fill="#008000"/>
<line x1="273.6" y1="374" x2="273.6" y2="393.3" stroke="#008000" stroke-width="2"/>
<line x1="267.6" y1="374" x2="279.6" y2="374" stroke="#008000" stroke-width="1.9"/>
<line x1="267.6" y1="393.3" x2="279.6" y2="393.3" stroke="#008000" stroke-width="1.9"/>
<circle cx="273.6" cy="386.3" r="5.25" fill="#008000"/>
<line x1="305.2" y1="379.8" x2="305.2" y2="398.5" stroke="#008000" stroke-width="2"/>
<line x1="299.2" y1="379.8" x2="311.2" y2="379.8" stroke="#008000" stroke-width="1.9"/>
<line x1="299.2" y1="398.5" x2="311.2" y2="398.5" stroke="#008000" stroke-width="1.9"/>
<circle cx="305.2" cy="390.6" r="5.25" fill="#008000"/>
<line x1="337.2" y1="391.5" x2="337.2" y2="409.7" stroke="#008000" stroke-width="2"/>
<line x1="331.2" y1="391.5" x2="343.2" y2="391.5" stroke="#008000" stroke-width="1.9"/>
<line x1="331.2" y1="409.7" x2="343.2" y2="409.7" stroke="#008000" stroke-width="1.9"/>
<circle cx="337.2" cy="403.2" r="5.25" fill="#008000"/>
<line x1="369" y1="401.5" x2="369" y2="417.9" stroke="#008000" stroke-width="2"/>
<line x1="363" y1="401.5" x2="375" y2="401.5" stroke="#008000" stroke-width="1.9"/>
<line x1="363" y1="417.9" x2="375" y2="417.9" stroke="#008000" stroke-width="1.9"/>
<circle cx="369" cy="413.9" r="5.25" fill="#008000"/>
<line x1="400.3" y1="412.5" x2="400.3" y2="427.2" stroke="#008000" stroke-width="2"/>
<line x1="394.3" y1="412.5" x2="406.3" y2="412.5" stroke="#008000" stroke-width="1.9"/>
<line x1="394.3" y1="427.2" x2="406.3" y2="427.2" stroke="#008000" stroke-width="1.9"/>
<circle cx="400.3" cy="421.4" r="5.25" fill="#008000"/>
<line x1="431.8" y1="428.3" x2="431.8" y2="447.4" stroke="#008000" stroke-width="2"/>
<line x1="425.8" y1="428.3" x2="437.8" y2="428.3" stroke="#008000" stroke-width="1.9"/>
<line x1="425.8" y1="447.4" x2="437.8" y2="447.4" stroke="#008000" stroke-width="1.9"/>
<circle cx="431.8" cy="440" r="5.25" fill="#008000"/>
<line x1="463.1" y1="456.8" x2="463.1" y2="476.9" stroke="#008000" stroke-width="2"/>
<line x1="457.1" y1="456.8" x2="469.1" y2="456.8" stroke="#008000" stroke-width="1.9"/>
<line x1="457.1" y1="476.9" x2="469.1" y2="476.9" stroke="#008000" stroke-width="1.9"/>
<circle cx="463.1" cy="473.6" r="5.25" fill="#008000"/>
<line x1="494.6" y1="481.1" x2="494.6" y2="499.3" stroke="#008000" stroke-width="2"/>
<line x1="488.6" y1="481.1" x2="500.6" y2="481.1" stroke="#008000" stroke-width="1.9"/>
<line x1="488.6" y1="499.3" x2="500.6" y2="499.3" stroke="#008000" stroke-width="1.9"/>
<circle cx="494.6" cy="493.4" r="5.25" fill="#008000"/>
<line x1="525.5" y1="485.2" x2="525.5" y2="498.9" stroke="#008000" stroke-width="2"/>
<line x1="519.5" y1="485.2" x2="531.5" y2="485.2" stroke="#008000" stroke-width="1.9"/>
<line x1="519.5" y1="498.9" x2="531.5" y2="498.9" stroke="#008000" stroke-width="1.9"/>
<circle cx="525.5" cy="495.3" r="5.25" fill="#008000"/>
<line x1="556.1" y1="560.5" x2="556.1" y2="571.5" stroke="#008000" stroke-width="2"/>
<line x1="550.1" y1="560.5" x2="562.1" y2="560.5" stroke="#008000" stroke-width="1.9"/>
<line x1="550.1" y1="571.5" x2="562.1" y2="571.5" stroke="#008000" stroke-width="1.9"/>
<circle cx="556.1" cy="570.7" r="5.25" fill="#008000"/>
<line x1="587.2" y1="558.7" x2="587.2" y2="582.9" stroke="#008000" stroke-width="2"/>
<line x1="581.2" y1="558.7" x2="593.2" y2="558.7" stroke="#008000" stroke-width="1.9"/>
<line x1="581.2" y1="582.9" x2="593.2" y2="582.9" stroke="#008000" stroke-width="1.9"/>
<circle cx="587.2" cy="578.8" r="5.25" fill="#008000"/>
<line x1="181.8" y1="399.8" x2="181.8" y2="479.8" stroke="#4b0082" stroke-width="2"/>
<line x1="175.8" y1="399.8" x2="187.8" y2="399.8" stroke="#4b0082" stroke-width="1.9"/>
<line x1="175.8" y1="479.8" x2="187.8" y2="479.8" stroke="#4b0082" stroke-width="1.9"/>
<circle cx="181.8" cy="439.5" r="5.25" fill="#4b0082"/>
<line x1="210.9" y1="516.6" x2="210.9" y2="551" stroke="#4b0082" stroke-width="2"/>
<line x1="204.9" y1="516.6" x2="216.9" y2="516.6" stroke="#4b0082" stroke-width="1.9"/>
<line x1="204.9" y1="551" x2="216.9" y2="551" stroke="#4b0082" stroke-width="1.9"/>
<circle cx="210.9" cy="527" r="5.25" fill="#4b0082"/>
<line x1="241.6" y1="571.2" x2="241.6" y2="599.3" stroke="#4b0082" stroke-width="2"/>
<line x1="235.6" y1="571.2" x2="247.6" y2="571.2" stroke="#4b0082" stroke-width="1.9"/>
<line x1="235.6" y1="599.3" x2="247.6" y2="599.3" stroke="#4b0082" stroke-width="1.9"/>
<circle cx="241.6" cy="586.8" r="5.25" fill="#4b0082"/>
<line x1="273.4" y1="605" x2="273.4" y2="626.9" stroke="#4b0082" stroke-width="2"/>
<line x1="267.4" y1="605" x2="279.4" y2="605" stroke="#4b0082" stroke-width="1.9"/>
<line x1="267.4" y1="626.9" x2="279.4" y2="626.9" stroke="#4b0082" stroke-width="1.9"/>
<circle cx="273.4" cy="611.8" r="5.25" fill="#4b0082"/>
<line x1="305.1" y1="623.6" x2="305.1" y2="643.4" stroke="#4b0082" stroke-width="2"/>
<line x1="299.1" y1="623.6" x2="311.1" y2="623.6" stroke="#4b0082" stroke-width="1.9"/>
<line x1="299.1" y1="643.4" x2="311.1" y2="643.4" stroke="#4b0082" stroke-width="1.9"/>
<circle cx="305.1" cy="633.1" r="5.25" fill="#4b0082"/>
<line x1="337.1" y1="640" x2="337.1" y2="654.2" stroke="#4b0082" stroke-width="2"/>
<line x1="331.1" y1="640" x2="343.1" y2="640" stroke="#4b0082" stroke-width="1.9"/>
<line x1="331.1" y1="654.2" x2="343.1" y2="654.2" stroke="#4b0082" stroke-width="1.9"/>
<circle cx="337.1" cy="645" r="5.25" fill="#4b0082"/>
<line x1="369" y1="646.4" x2="369" y2="658.7" stroke="#4b0082" stroke-width="2"/>
<line x1="363" y1="646.4" x2="375" y2="646.4" stroke="#4b0082" stroke-width="1.9"/>
<line x1="363" y1="658.7" x2="375" y2="658.7" stroke="#4b0082" stroke-width="1.9"/>
<circle cx="369" cy="649.9" r="5.25" fill="#4b0082"/>
<line x1="400.5" y1="648.2" x2="400.5" y2="665.7" stroke="#4b0082" stroke-width="2"/>
<line x1="394.5" y1="648.2" x2="406.5" y2="648.2" stroke="#4b0082" stroke-width="1.9"/>
<line x1="394.5" y1="665.7" x2="406.5" y2="665.7" stroke="#4b0082" stroke-width="1.9"/>
<circle cx="400.5" cy="655.8" r="5.25" fill="#4b0082"/>
<line x1="431.8" y1="641.6" x2="431.8" y2="656.5" stroke="#4b0082" stroke-width="2"/>
<line x1="425.8" y1="641.6" x2="437.8" y2="641.6" stroke="#4b0082" stroke-width="1.9"/>
<line x1="425.8" y1="656.5" x2="437.8" y2="656.5" stroke="#4b0082" stroke-width="1.9"/>
<circle cx="431.8" cy="647.1" r="5.25" fill="#4b0082"/>
<line x1="463.2" y1="631.8" x2="463.2" y2="646.2" stroke="#4b0082" stroke-width="2"/>
<line x1="457.2" y1="631.8" x2="469.2" y2="631.8" stroke="#4b0082" stroke-width="1.9"/>
<line x1="457.2" y1="646.2" x2="469.2" y2="646.2" stroke="#4b0082" stroke-width="1.9"/>
<circle cx="463.2" cy="636.2" r="5.25" fill="#4b0082"/>
<line x1="494.4" y1="635" x2="494.4" y2="649.1" stroke="#4b0082" stroke-width="2"/>
<line x1="488.4" y1="635" x2="500.4" y2="635" stroke="#4b0082" stroke-width="1.9"/>
<line x1="488.4" y1="649.1" x2="500.4" y2="649.1" stroke="#4b0082" stroke-width="1.9"/>
<circle cx="494.4" cy="638.5" r="5.25" fill="#4b0082"/>
<line x1="525.2" y1="632" x2="525.2" y2="643.2" stroke="#4b0082" stroke-width="2"/>
<line x1="519.2" y1="632" x2="531.2" y2="632" stroke="#4b0082" stroke-width="1.9"/>
<line x1="519.2" y1="643.2" x2="531.2" y2="643.2" stroke="#4b0082" stroke-width="1.9"/>
<circle cx="525.2" cy="635.7" r="5.25" fill="#4b0082"/>
<line x1="556.3" y1="617.5" x2="556.3" y2="630.8" stroke="#4b0082" stroke-width="2"/>
<line x1="550.3" y1="617.5" x2="562.3" y2="617.5" stroke="#4b0082" stroke-width="1.9"/>
<line x1="550.3" y1="630.8" x2="562.3" y2="630.8" stroke="#4b0082" stroke-width="1.9"/>
<circle cx="556.3" cy="622.2" r="5.25" fill="#4b0082"/>
<line x1="587.4" y1="619.9" x2="587.4" y2="628.7" stroke="#4b0082" stroke-width="2"/>
<line x1="581.4" y1="619.9" x2="593.4" y2="619.9" stroke="#4b0082" stroke-width="1.9"/>
<line x1="581.4" y1="628.7" x2="593.4" y2="628.7" stroke="#4b0082" stroke-width="1.9"/>
<circle cx="587.4" cy="623.4" r="5.25" fill="#4b0082"/>
<g clip-path="url(#cbot)"><polygon points="76.2,690.82 82.87,692.74 89.53,694.67 96.2,696.59 102.87,698.52 109.54,700.44 116.2,702.37 122.87,704.29 129.54,706.22 136.2,708.14 142.87,710.06 149.54,711.99 156.21,713.91 162.87,715.83 169.54,717.76 176.21,719.68 182.87,721.6 189.54,723.52 196.21,725.45 202.87,727.37 209.54,729.29 216.21,731.21 222.88,733.13 229.54,735.05 236.21,736.97 242.88,738.89 249.54,740.81 256.21,742.73 262.88,744.65 269.55,746.57 276.21,748.49 282.88,750.41 289.55,752.32 296.21,754.24 302.88,756.15 309.55,758.07 316.22,759.98 322.88,761.89 329.55,763.81 336.22,765.72 342.88,767.63 349.55,769.53 356.22,771.44 362.88,773.34 369.55,775.25 376.22,777.15 382.89,779.05 389.55,780.94 396.22,782.84 402.89,784.73 409.55,786.61 416.22,788.5 422.89,790.37 429.56,792.25 436.22,794.11 442.89,795.97 449.56,797.82 456.22,799.66 462.89,801.49 469.56,803.31 476.23,805.12 482.89,806.9 489.56,808.68 496.23,810.43 502.89,812.15 509.56,813.86 516.23,815.54 522.89,817.19 529.56,818.82 536.23,820.42 542.9,822 549.56,823.55 556.23,825.09 562.9,826.6 569.56,828.1 576.23,829.59 582.9,831.06 589.57,832.53 596.23,833.98 602.9,835.42 602.9,844.51 596.23,842.65 589.57,840.8 582.9,838.96 576.23,837.13 569.56,835.31 562.9,833.51 556.23,831.72 549.56,829.96 542.9,828.21 536.23,826.48 529.56,824.78 522.89,823.11 516.23,821.46 509.56,819.83 502.89,818.23 496.23,816.66 489.56,815.11 482.89,813.57 476.23,812.06 469.56,810.56 462.89,809.08 456.22,807.6 449.56,806.14 442.89,804.69 436.22,803.25 429.56,801.81 422.89,800.38 416.22,798.95 409.55,797.53 402.89,796.12 396.22,794.71 389.55,793.3 382.89,791.89 376.22,790.48 369.55,789.08 362.88,787.68 356.22,786.28 349.55,784.89 342.88,783.49 336.22,782.1 329.55,780.71 322.88,779.32 316.22,777.93 309.55,776.54 302.88,775.15 296.21,773.76 289.55,772.37 282.88,770.99 276.21,769.6 269.55,768.22 262.88,766.83 256.21,765.45 249.54,764.06 242.88,762.68 236.21,761.3 229.54,759.92 222.88,758.53 216.21,757.15 209.54,755.77 202.87,754.39 196.21,753.01 189.54,751.63 182.87,750.25 176.21,748.87 169.54,747.49 162.87,746.11 156.21,744.73 149.54,743.35 142.87,741.97 136.2,740.59 129.54,739.21 122.87,737.83 116.2,736.45 109.54,735.08 102.87,733.7 96.2,732.32 89.53,730.94 82.87,729.56 76.2,728.19" fill="#8fbbd9"/>
<line x1="76.2" y1="709.5" x2="601.8" y2="839.69" stroke="#000" stroke-width="2.2" stroke-dasharray="8.3 3.6"/></g>
<rect x="76.2" y="682.4" width="536.5" height="170.8" fill="none" stroke="#000" stroke-width="1.4"/>
<line x1="71.2" y1="684.9" x2="76.2" y2="684.9" stroke="#000" stroke-width="1.35"/>
<line x1="71.2" y1="721" x2="76.2" y2="721" stroke="#000" stroke-width="1.35"/>
<line x1="71.2" y1="757.1" x2="76.2" y2="757.1" stroke="#000" stroke-width="1.35"/>
<rect x="31.27" y="757.67" width="9.39" height="1.25" fill="#000"/>
<line x1="71.2" y1="793.2" x2="76.2" y2="793.2" stroke="#000" stroke-width="1.35"/>
<rect x="31.27" y="793.77" width="9.39" height="1.25" fill="#000"/>
<line x1="71.2" y1="829.3" x2="76.2" y2="829.3" stroke="#000" stroke-width="1.35"/>
<rect x="31.27" y="829.87" width="9.39" height="1.25" fill="#000"/>
<line x1="76.2" y1="853.2" x2="76.2" y2="858.2" stroke="#000" stroke-width="1.35"/>
<line x1="175.56" y1="853.2" x2="175.56" y2="858.2" stroke="#000" stroke-width="1.35"/>
<line x1="274.92" y1="853.2" x2="274.92" y2="858.2" stroke="#000" stroke-width="1.35"/>
<line x1="374.28" y1="853.2" x2="374.28" y2="858.2" stroke="#000" stroke-width="1.35"/>
<line x1="473.64" y1="853.2" x2="473.64" y2="858.2" stroke="#000" stroke-width="1.35"/>
<line x1="573" y1="853.2" x2="573" y2="858.2" stroke="#000" stroke-width="1.35"/>
<line x1="181.9" y1="775.52" x2="181.9" y2="781.72" stroke="#000" stroke-width="2"/>
<line x1="175.9" y1="775.52" x2="187.9" y2="775.52" stroke="#000" stroke-width="1.9"/>
<line x1="175.9" y1="781.72" x2="187.9" y2="781.72" stroke="#000" stroke-width="1.9"/>
<circle cx="181.9" cy="779.28" r="5.25" fill="#000"/>
<line x1="210.9" y1="775.74" x2="210.9" y2="780.6" stroke="#000" stroke-width="2"/>
<line x1="204.9" y1="775.74" x2="216.9" y2="775.74" stroke="#000" stroke-width="1.9"/>
<line x1="204.9" y1="780.6" x2="216.9" y2="780.6" stroke="#000" stroke-width="1.9"/>
<circle cx="210.9" cy="778.77" r="5.25" fill="#000"/>
<line x1="241.5" y1="776.64" x2="241.5" y2="782.06" stroke="#000" stroke-width="2"/>
<line x1="235.5" y1="776.64" x2="247.5" y2="776.64" stroke="#000" stroke-width="1.9"/>
<line x1="235.5" y1="782.06" x2="247.5" y2="782.06" stroke="#000" stroke-width="1.9"/>
<circle cx="241.5" cy="779.67" r="5.25" fill="#000"/>
<line x1="273.6" y1="778.77" x2="273.6" y2="784.19" stroke="#000" stroke-width="2"/>
<line x1="267.6" y1="778.77" x2="279.6" y2="778.77" stroke="#000" stroke-width="1.9"/>
<line x1="267.6" y1="784.19" x2="279.6" y2="784.19" stroke="#000" stroke-width="1.9"/>
<circle cx="273.6" cy="782.23" r="5.25" fill="#000"/>
<line x1="305.2" y1="780.4" x2="305.2" y2="785.66" stroke="#000" stroke-width="2"/>
<line x1="299.2" y1="780.4" x2="311.2" y2="780.4" stroke="#000" stroke-width="1.9"/>
<line x1="299.2" y1="785.66" x2="311.2" y2="785.66" stroke="#000" stroke-width="1.9"/>
<circle cx="305.2" cy="783.44" r="5.25" fill="#000"/>
<line x1="337.2" y1="783.69" x2="337.2" y2="788.8" stroke="#000" stroke-width="2"/>
<line x1="331.2" y1="783.69" x2="343.2" y2="783.69" stroke="#000" stroke-width="1.9"/>
<line x1="331.2" y1="788.8" x2="343.2" y2="788.8" stroke="#000" stroke-width="1.9"/>
<circle cx="337.2" cy="786.98" r="5.25" fill="#000"/>
<line x1="369" y1="786.5" x2="369" y2="791.1" stroke="#000" stroke-width="2"/>
<line x1="363" y1="786.5" x2="375" y2="786.5" stroke="#000" stroke-width="1.9"/>
<line x1="363" y1="791.1" x2="375" y2="791.1" stroke="#000" stroke-width="1.9"/>
<circle cx="369" cy="789.98" r="5.25" fill="#000"/>
<line x1="400.3" y1="789.59" x2="400.3" y2="793.72" stroke="#ff0000" stroke-width="2"/>
<line x1="394.3" y1="789.59" x2="406.3" y2="789.59" stroke="#ff0000" stroke-width="1.9"/>
<line x1="394.3" y1="793.72" x2="406.3" y2="793.72" stroke="#ff0000" stroke-width="1.9"/>
<circle cx="400.3" cy="792.09" r="5.25" fill="#ff0000"/>
<line x1="431.8" y1="794.03" x2="431.8" y2="799.39" stroke="#ff0000" stroke-width="2"/>
<line x1="425.8" y1="794.03" x2="437.8" y2="794.03" stroke="#ff0000" stroke-width="1.9"/>
<line x1="425.8" y1="799.39" x2="437.8" y2="799.39" stroke="#ff0000" stroke-width="1.9"/>
<circle cx="431.8" cy="797.31" r="5.25" fill="#ff0000"/>
<line x1="463.1" y1="802.03" x2="463.1" y2="807.68" stroke="#ff0000" stroke-width="2"/>
<line x1="457.1" y1="802.03" x2="469.1" y2="802.03" stroke="#ff0000" stroke-width="1.9"/>
<line x1="457.1" y1="807.68" x2="469.1" y2="807.68" stroke="#ff0000" stroke-width="1.9"/>
<circle cx="463.1" cy="806.75" r="5.25" fill="#ff0000"/>
<line x1="494.6" y1="808.86" x2="494.6" y2="813.97" stroke="#ff0000" stroke-width="2"/>
<line x1="488.6" y1="808.86" x2="500.6" y2="808.86" stroke="#ff0000" stroke-width="1.9"/>
<line x1="488.6" y1="813.97" x2="500.6" y2="813.97" stroke="#ff0000" stroke-width="1.9"/>
<circle cx="494.6" cy="812.31" r="5.25" fill="#ff0000"/>
<line x1="525.5" y1="810.01" x2="525.5" y2="813.86" stroke="#ff0000" stroke-width="2"/>
<line x1="519.5" y1="810.01" x2="531.5" y2="810.01" stroke="#ff0000" stroke-width="1.9"/>
<line x1="519.5" y1="813.86" x2="531.5" y2="813.86" stroke="#ff0000" stroke-width="1.9"/>
<circle cx="525.5" cy="812.85" r="5.25" fill="#ff0000"/>
<line x1="556.1" y1="831.16" x2="556.1" y2="834.25" stroke="#ff0000" stroke-width="2"/>
<line x1="550.1" y1="831.16" x2="562.1" y2="831.16" stroke="#ff0000" stroke-width="1.9"/>
<line x1="550.1" y1="834.25" x2="562.1" y2="834.25" stroke="#ff0000" stroke-width="1.9"/>
<circle cx="556.1" cy="834.02" r="5.25" fill="#ff0000"/>
<line x1="587.2" y1="830.65" x2="587.2" y2="837.45" stroke="#ff0000" stroke-width="2"/>
<line x1="581.2" y1="830.65" x2="593.2" y2="830.65" stroke="#ff0000" stroke-width="1.9"/>
<line x1="581.2" y1="837.45" x2="593.2" y2="837.45" stroke="#ff0000" stroke-width="1.9"/>
<circle cx="587.2" cy="836.3" r="5.25" fill="#ff0000"/>
<rect x="489.3" y="690" width="116.2" height="48" rx="2.8" ry="2.8" fill="#fff" fill-opacity="0.8" stroke="#cbcbcb" stroke-width="1.3"/>
<line x1="509.9" y1="694.9" x2="509.9" y2="709.6" stroke="#000" stroke-width="2"/>
<line x1="503.9" y1="694.9" x2="515.9" y2="694.9" stroke="#000" stroke-width="1.9"/>
<line x1="503.9" y1="709.6" x2="515.9" y2="709.6" stroke="#000" stroke-width="1.9"/>
<circle cx="509.9" cy="702" r="5.25" fill="#000"/>
<line x1="509.9" y1="716.4" x2="509.9" y2="731.3" stroke="#ff0000" stroke-width="2"/>
<line x1="503.9" y1="716.4" x2="515.9" y2="716.4" stroke="#ff0000" stroke-width="1.9"/>
<line x1="503.9" y1="731.3" x2="515.9" y2="731.3" stroke="#ff0000" stroke-width="1.9"/>
<circle cx="509.9" cy="723.9" r="5.25" fill="#ff0000"/>
<text font-size="100" fill="#000" stroke="#000" stroke-width="1.54" transform="matrix(0.168 0 0 0.15634 58.44 291.64366)">10</text>
<text font-size="100" fill="#000" stroke="#000" stroke-width="2.18" transform="matrix(0.11702 0 0 0.11268 85.63191 286.68732)">3</text>
<text font-size="100" fill="#000" stroke="#000" stroke-width="1.54" transform="matrix(0.168 0 0 0.15634 326.64 291.64366)">10</text>
<text font-size="100" fill="#000" stroke="#000" stroke-width="2.19" transform="matrix(0.11429 0 0 0.11429 354.22857 286.7)">2</text>
<text font-size="100" fill="#000" stroke="#000" stroke-width="1.54" transform="matrix(0.168 0 0 0.15634 594.94 291.64366)">10</text>
<text font-size="100" fill="#000" stroke="#000" stroke-width="2.13" transform="matrix(0.11628 0 0 0.11825 622.62791 286.8)">1</text>
<text font-size="100" fill="#000" stroke="#000" stroke-width="1.53" transform="matrix(0.168 0 0 0.15915 30.24 193.34085)">10</text>
<text font-size="100" fill="#000" stroke="#000" stroke-width="2.20" transform="matrix(0.12093 0 0 0.10657 57.89302 187.7)">1</text>
<text font-size="100" fill="#000" stroke="#000" stroke-width="1.19" transform="matrix(0.21395 0 0 0.20584 304.29535 317.1)">1</text>
<text font-size="100" fill="#000" font-style="italic" stroke="#000" stroke-width="1.32" transform="matrix(0.17681 0 0 0.20146 340.26957 316.9)">H</text>
<text font-size="100" fill="#000" stroke="#000" stroke-width="1.30" transform="matrix(0.17091 0 0 0.21224 353.8 318.48776)">/</text>
<text font-size="100" fill="#000" font-style="italic" stroke="#000" stroke-width="1.28" transform="matrix(0.18986 0 0 0.20146 361.03043 316.9)">H</text>
<text font-size="100" fill="#000" font-style="italic" stroke="#000" stroke-width="1.97" transform="matrix(0.13846 0 0 0.1156 375.31538 319.5844)">c</text>
<text font-size="100" fill="#000" stroke="#000" stroke-width="1.05" transform="matrix(0 -0.23256 0.24234 0 18 177.74419)">1</text>
<text font-size="100" fill="#000" font-style="italic" stroke="#000" stroke-width="1.08" transform="matrix(0 -0.2304 0.23087 0 17.96711 148.0872)">χ</text>
<text font-size="100" fill="#000" stroke="#000" stroke-width="0.97" transform="matrix(0 -0.26545 0.2517 0 19.7483 130)">/</text>
<text font-size="100" fill="#000" font-style="italic" stroke="#000" stroke-width="1.11" transform="matrix(0 -0.224 0.2255 0 17.87718 121.632)">χ</text>
<text font-size="100" fill="#000" stroke="#000" stroke-width="1.50" transform="matrix(0 -0.16842 0.16479 0 21.53521 102.87368)">0</text>
<text font-size="100" fill="#000" stroke="#000" stroke-width="1.63" transform="matrix(0.14815 0 0 0.15912 130.92593 231.9)">AFM</text>
<text font-size="100" fill="#000" stroke="#000" stroke-width="1.66" transform="matrix(0.14403 0 0 0.15766 130.64776 253.7)">PM</text>
<text font-size="100" fill="#000" stroke="#000" stroke-width="0.85" transform="matrix(0.30828 0 0 0.27746 423.8293 142.82254)">T=53 mK</text>
<text font-size="100" fill="#000" stroke="#000" stroke-width="1.60" transform="matrix(0.1697 0 0 0.14366 122.62121 132.95634)">3400</text>
<text font-size="100" fill="#000" stroke="#000" stroke-width="1.60" transform="matrix(0.1697 0 0 0.14366 181.62121 132.95634)">3600</text>
<text font-size="100" fill="#000" stroke="#000" stroke-width="1.60" transform="matrix(0.1697 0 0 0.14366 240.32121 132.95634)">3800</text>
<text font-size="100" fill="#000" stroke="#000" stroke-width="1.66" transform="matrix(0.16084 0 0 0.14015 180.01329 148.1)">H (Oe)</text>
<text font-size="100" fill="#000" font-style="italic" stroke="#000" stroke-width="1.65" transform="matrix(0 -0.144 0.15973 0 104.6255 63.492)">χ</text>
<text font-size="100" fill="#000" stroke="#000" stroke-width="1.53" transform="matrix(0.16703 0 0 0.16 126.56484 70)">2</text>
<text font-size="100" fill="#000" font-style="italic" stroke="#000" stroke-width="1.54" transform="matrix(0.1646 0 0 0.16038 135.65841 70)">x</text>
<text font-size="100" fill="#000" stroke="#000" stroke-width="1.55" transform="matrix(0.165 0 0 0.15775 143.9625 69.84225)">10</text>
<text font-size="100" fill="#000" stroke="#000" stroke-width="2.14" transform="matrix(0.11702 0 0 0.1169 172.23191 64.3831)">3</text>
<text font-size="100" fill="#4b0082" stroke="#4b0082" stroke-width="1.51" transform="matrix(0.1673 0 0 0.16291 56.5001 347.25129)">6</text>
<text font-size="100" fill="#4b0082" stroke="#4b0082" stroke-width="1.58" transform="matrix(0.15203 0 0 0.16357 56.83558 444.78063)">5</text>
<text font-size="100" fill="#4b0082" stroke="#4b0082" stroke-width="1.54" transform="matrix(0.16249 0 0 0.16283 56.6091 542.26)">4</text>
<text font-size="100" fill="#4b0082" stroke="#4b0082" stroke-width="1.57" transform="matrix(0.15626 0 0 0.16291 56.80339 639.84129)">3</text>
<text font-size="100" fill="#008000" stroke="#008000" stroke-width="1.54" transform="matrix(0.16598 0 0 0.15972 635.29609 367.25028)">0.3</text>
<text font-size="100" fill="#008000" stroke="#008000" stroke-width="1.53" transform="matrix(0.16682 0 0 0.15972 635.29273 431.51028)">0.4</text>
<text font-size="100" fill="#008000" stroke="#008000" stroke-width="1.54" transform="matrix(0.16454 0 0 0.15972 635.30183 495.77028)">0.5</text>
<text font-size="100" fill="#008000" stroke="#008000" stroke-width="1.53" transform="matrix(0.16793 0 0 0.15972 635.28828 560.03028)">0.6</text>
<text font-size="100" fill="#008000" stroke="#008000" stroke-width="1.53" transform="matrix(0.16604 0 0 0.15972 635.29585 624.29028)">0.7</text>
<text font-size="100" fill="#008000" stroke="#008000" stroke-width="1.53" transform="matrix(0.16736 0 0 0.15972 635.29057 688.55028)">0.8</text>
<text font-size="100" fill="#4b0082" font-style="italic" stroke="#4b0082" stroke-width="1.04" transform="matrix(0 -0.22975 0.25109 0 45.4 552.78926)">B</text>
<text font-size="100" fill="#4b0082" stroke="#4b0082" stroke-width="1.18" transform="matrix(0 -0.20619 0.21649 0 38.74845 533.03093)">+</text>
<text font-size="100" fill="#4b0082" stroke="#4b0082" stroke-width="0.91" transform="matrix(0 -0.29818 0.25306 0 46.54694 516.8)">/</text>
<text font-size="100" fill="#4b0082" font-style="italic" stroke="#4b0082" stroke-width="1.06" transform="matrix(0 -0.22149 0.25109 0 45.4 508.86446)">B</text>
<text font-size="100" fill="#008000" font-style="italic" stroke="#008000" stroke-width="1.05" transform="matrix(0 -0.24144 0.23486 0 680.76514 526.04505)">α</text>
<text font-size="100" fill="#008000" font-style="italic" stroke="#008000" stroke-width="1.53" transform="matrix(0 -0.15942 0.16642 0 684.4 511.67826)">H</text>
<text font-size="100" fill="#000" stroke="#000" stroke-width="1.54" transform="matrix(0.16431 0 0 0.15972 42.57761 690.85028)">0.2</text>
<text font-size="100" fill="#000" stroke="#000" stroke-width="1.53" transform="matrix(0.16695 0 0 0.15972 42.56706 726.95028)">0.0</text>
<text font-size="100" fill="#000" stroke="#000" stroke-width="1.54" transform="matrix(0.16431 0 0 0.15972 42.57761 763.05028)">0.2</text>
<text font-size="100" fill="#000" stroke="#000" stroke-width="1.53" transform="matrix(0.16682 0 0 0.15972 42.56757 799.15028)">0.4</text>
<text font-size="100" fill="#000" stroke="#000" stroke-width="1.53" transform="matrix(0.16793 0 0 0.15972 42.56312 835.25028)">0.6</text>
<text font-size="100" fill="#000" stroke="#000" stroke-width="1.52" transform="matrix(0.16842 0 0 0.15972 59.51699 875.15028)">0.00</text>
<text font-size="100" fill="#000" stroke="#000" stroke-width="1.53" transform="matrix(0.16673 0 0 0.15972 158.88375 875.15028)">0.05</text>
<text font-size="100" fill="#000" stroke="#000" stroke-width="1.52" transform="matrix(0.16842 0 0 0.15972 258.23699 875.15028)">0.10</text>
<text font-size="100" fill="#000" stroke="#000" stroke-width="1.53" transform="matrix(0.16673 0 0 0.15972 357.60375 875.15028)">0.15</text>
<text font-size="100" fill="#000" stroke="#000" stroke-width="1.52" transform="matrix(0.16842 0 0 0.15972 456.95699 875.15028)">0.20</text>
<text font-size="100" fill="#000" stroke="#000" stroke-width="1.53" transform="matrix(0.16673 0 0 0.15972 556.32375 875.15028)">0.25</text>
<text font-size="100" fill="#000" stroke="#000" stroke-width="1.20" transform="matrix(0.20946 0 0 0.20876 321.07636 898.4)">T (K)</text>
<text font-size="100" fill="#000" font-style="italic" stroke="#000" stroke-width="1.05" transform="matrix(0 -0.23243 0.2422 0 18.8578 781.71351)">α</text>
<text font-size="100" fill="#000" font-style="italic" stroke="#000" stroke-width="1.56" transform="matrix(0 -0.15507 0.16642 0 21.9 767.36522)">H</text>
<text font-size="100" fill="#000" stroke="#000" stroke-width="1.57" transform="matrix(0.16662 0 0 0.15238 535.96703 707.04762)">Disorder</text>
<text font-size="100" fill="#000" stroke="#000" stroke-width="1.58" transform="matrix(0.16313 0 0 0.15238 536.18437 728.84762)">Clean</text>
</g></svg></body></html>
